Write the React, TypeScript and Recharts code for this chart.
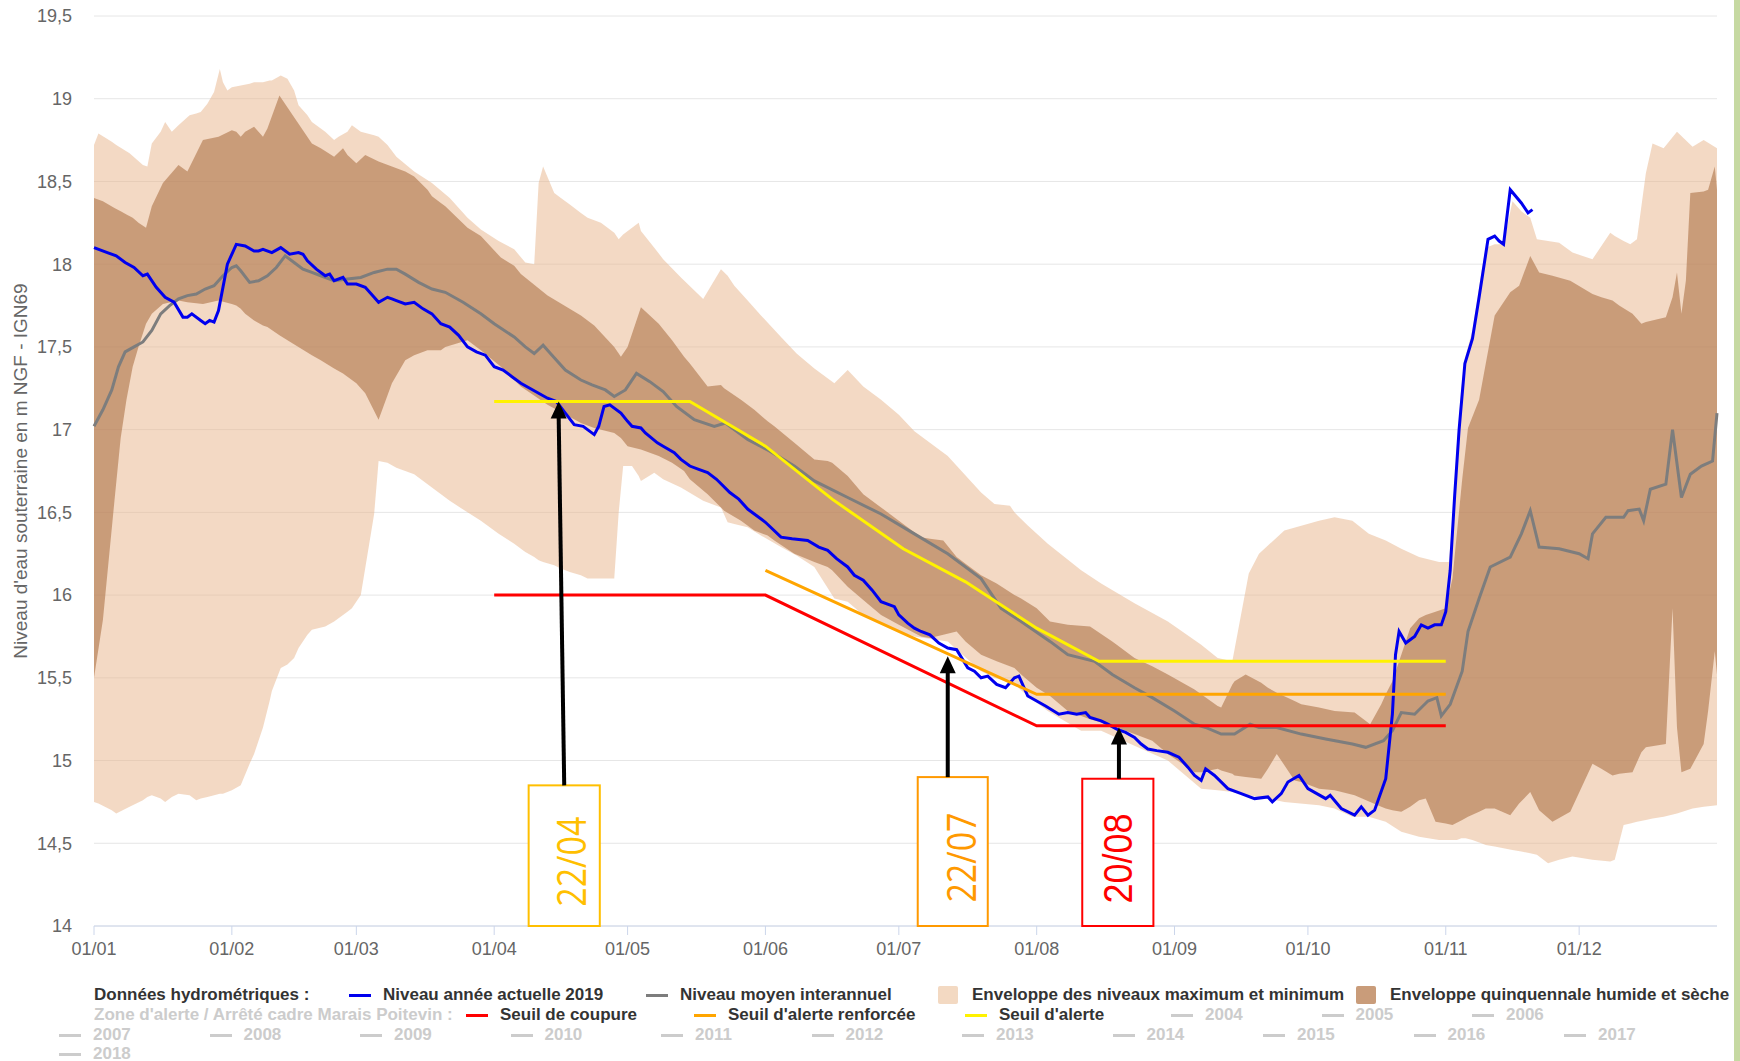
import React from "react";
import {
  ComposedChart,
  Area,
  Line,
  XAxis,
  YAxis,
  CartesianGrid,
  ReferenceLine,
  ReferenceArea,
  ReferenceDot,
} from "recharts";

// jour de l'année (0 = 01/01)
const monthTicks = [0, 31, 59, 90, 120, 151, 181, 212, 243, 273, 304, 334];
const monthLabels = ["01/01", "01/02", "01/03", "01/04", "01/05", "01/06", "01/07", "01/08", "01/09", "01/10", "01/11", "01/12"];
const levelTicks = [14, 14.5, 15, 15.5, 16, 16.5, 17, 17.5, 18, 18.5, 19, 19.5];

// Niveau année actuelle 2019
const niveau2019Days = [
  0, 3, 5, 7, 9, 11, 12, 14, 16, 18, 20, 21, 22, 24, 25, 26, 27, 28, 30, 32, 34, 36, 37, 38, 40, 42, 44, 46, 47, 48,
  50, 52, 53, 54, 56, 57, 59, 61, 63, 64, 66, 67, 68, 70, 72, 74, 76, 78, 80, 82, 84, 86, 88, 90, 92, 94, 96, 98, 100, 102,
  104, 106, 108, 110, 112.5, 113.5, 114.7, 116, 118.5, 120, 121, 123, 124, 126.7, 128, 130.5, 132, 134, 136, 138, 140, 143, 145, 147, 148.5, 151, 154.5, 157, 160.5, 163,
  165, 167, 169.5, 171, 173, 175, 177, 180, 181, 183, 184.5, 186, 188, 190, 192, 194, 196.5, 198, 199.5, 201, 203, 205, 207, 208, 210, 212, 214, 217, 219, 221,
  223, 224, 226.5, 228, 230, 232, 234, 235.5, 237, 239, 241.5, 244, 246, 247.5, 249, 250, 252, 255, 258, 261, 264, 265, 267, 268.5, 271, 273, 275, 277, 278, 280.5,
  283.5, 285, 286.5, 288, 290.5, 292, 292.7, 293.5, 295, 297, 298.5, 300, 301.5, 303, 304, 305, 306, 307, 308.3, 310, 311.5, 313.5, 315, 316, 317, 318.5, 321, 322.5, 323.5,
];
const niveau2019 = [
  18.1, 18.07, 18.05, 18.01, 17.98, 17.93, 17.94, 17.86, 17.8, 17.77, 17.68, 17.68, 17.7, 17.66, 17.64, 17.66, 17.65, 17.72, 18.0, 18.12, 18.11, 18.08, 18.08, 18.09, 18.07, 18.1, 18.06, 18.07, 18.06, 18.02,
  17.97, 17.93, 17.94, 17.9, 17.92, 17.88, 17.88, 17.86, 17.8, 17.77, 17.8, 17.79, 17.78, 17.76, 17.77, 17.73, 17.7, 17.64, 17.62, 17.57, 17.5, 17.47, 17.45, 17.38, 17.36, 17.32, 17.28, 17.25, 17.22, 17.19,
  17.17, 17.1, 17.03, 17.02, 16.97, 17.02, 17.14, 17.15, 17.1, 17.05, 17.02, 17.01, 16.98, 16.92, 16.9, 16.86, 16.82, 16.78, 16.76, 16.74, 16.7, 16.62, 16.58, 16.52, 16.49, 16.44, 16.35, 16.34, 16.33, 16.29,
  16.27, 16.22, 16.17, 16.12, 16.09, 16.03, 15.96, 15.93, 15.88, 15.83, 15.8, 15.78, 15.76, 15.71, 15.68, 15.67, 15.56, 15.54, 15.5, 15.51, 15.46, 15.44, 15.5, 15.51, 15.39, 15.36, 15.33, 15.28, 15.29, 15.28,
  15.29, 15.26, 15.24, 15.22, 15.19, 15.17, 15.14, 15.1, 15.07, 15.06, 15.05, 15.02, 14.96, 14.91, 14.88, 14.95, 14.91, 14.83, 14.8, 14.77, 14.78, 14.75, 14.8, 14.87, 14.91, 14.83, 14.8, 14.77, 14.79, 14.71,
  14.67, 14.72, 14.67, 14.7, 14.89, 15.28, 15.64, 15.78, 15.71, 15.75, 15.82, 15.8, 15.82, 15.82, 15.9, 16.15, 16.6, 17.0, 17.4, 17.55, 17.8, 18.15, 18.17, 18.14, 18.12, 18.45, 18.37, 18.31, 18.33,
];

// Niveau moyen interannuel
const moyenDays = [
  0, 2, 4, 5.5, 7, 9, 11, 13, 15, 17, 19, 21, 23, 25, 27, 29, 31, 32, 33, 35, 37, 39, 41, 43, 45, 47, 49, 51, 54, 57,
  60, 63, 66, 68, 70, 73, 76, 79, 83, 87, 90, 94.5, 97, 99, 101, 103, 106, 109.5, 112, 115, 117, 119.5, 122, 125, 128, 131, 135, 139.5, 142, 147,
  152, 157.5, 162, 169.5, 177, 184.5, 192, 199.5, 204, 208.5, 215, 219, 225, 229, 234, 238, 243, 247.5, 250, 253.5, 256.5, 260, 262, 266, 271.5, 277, 283, 286, 290, 292,
  294, 297, 300, 302, 303, 305, 307.7, 309, 311.5, 314, 318.5, 321, 323, 325, 329.5, 334, 336, 337, 340, 344, 345, 347.5, 348.5, 350, 353.5, 355, 357, 359, 361.5, 364, 365,
];
const moyen = [
  17.02, 17.12, 17.24, 17.38, 17.47, 17.5, 17.53, 17.6, 17.7, 17.75, 17.79, 17.81, 17.82, 17.85, 17.87, 17.93, 17.98, 17.99, 17.96, 17.89, 17.9, 17.93, 17.98, 18.05, 18.01, 17.97, 17.95, 17.93, 17.9, 17.91,
  17.92, 17.95, 17.97, 17.97, 17.94, 17.89, 17.85, 17.83, 17.77, 17.7, 17.64, 17.56, 17.5, 17.46, 17.51, 17.45, 17.36, 17.3, 17.27, 17.24, 17.2, 17.24, 17.34, 17.29, 17.23, 17.14, 17.06, 17.02, 17.04, 16.94,
  16.87, 16.78, 16.69, 16.59, 16.49, 16.37, 16.25, 16.1, 15.92, 15.84, 15.72, 15.64, 15.6, 15.52, 15.44, 15.38, 15.3, 15.22, 15.2, 15.16, 15.16, 15.22, 15.2, 15.2, 15.16, 15.13, 15.1, 15.08, 15.12, 15.18,
  15.29, 15.28, 15.36, 15.38, 15.27, 15.34, 15.54, 15.78, 15.98, 16.17, 16.23, 16.37, 16.51, 16.29, 16.28, 16.25, 16.22, 16.37, 16.47, 16.47, 16.51, 16.52, 16.45, 16.64, 16.67, 17.0, 16.59, 16.73, 16.78, 16.81, 17.1,
];

// Enveloppe des niveaux maximum et minimum
const extremesDays = [
  0, 1, 4, 5, 8, 11, 12, 13, 15, 16, 17.5, 19, 21.5, 23, 24, 25.5, 27, 28.3, 29, 30, 31, 33, 35, 36, 38, 39.5, 40, 42, 43.5, 45,
  46, 48, 49, 52, 54, 55, 57, 58, 60, 63, 64, 66, 68, 72, 76, 80, 84, 87, 91, 94.5, 97, 99, 100, 101, 103.5, 105, 107, 109.5, 111, 114,
  117, 118, 119, 121, 122.5, 123, 126, 128, 132, 137, 141, 142.5, 144, 147, 150, 154.5, 158, 162, 166.5, 169.5, 173, 177, 181, 184.5, 192, 199.5, 202.5, 206, 207, 210,
  214.5, 222, 226.5, 234, 241.5, 249, 252.7, 256, 259.7, 262, 267.7, 275.5, 279, 283, 286.7, 290.5, 294, 298, 302.5, 304.7, 305.5, 306.5, 307.5, 308.5, 310, 312, 313, 315, 317, 319,
  321, 323, 324.5, 327, 329.5, 332.5, 337, 341, 342, 344, 345.5, 347, 349, 350.5, 353, 356, 359.5, 362, 365,
];
const niveauMin = [
  14.75, 14.74, 14.7, 14.68, 14.72, 14.76, 14.78, 14.79, 14.77, 14.75, 14.78, 14.8, 14.79, 14.76, 14.77, 14.78, 14.79, 14.8, 14.8, 14.81, 14.82, 14.85, 14.98, 15.04, 15.2, 15.36, 15.42, 15.56, 15.58, 15.62,
  15.68, 15.76, 15.79, 15.81, 15.84, 15.86, 15.9, 15.92, 16.0, 16.49, 16.81, 16.8, 16.77, 16.73, 16.65, 16.57, 16.5, 16.45, 16.37, 16.31, 16.26, 16.23, 16.21, 16.2, 16.18, 16.16, 16.14, 16.12, 16.1, 16.1,
  16.1, 16.5, 16.78, 16.78, 16.72, 16.69, 16.74, 16.7, 16.65, 16.57, 16.53, 16.44, 16.43, 16.41, 16.36, 16.29, 16.24, 16.17, 15.98, 15.96, 15.88, 15.83, 15.78, 15.75, 15.72, 15.54, 15.5, 15.47, 15.46, 15.39,
  15.3, 15.18, 15.18, 15.09, 15.0, 14.83, 14.82, 14.81, 14.79, 14.78, 14.75, 14.73, 14.71, 14.66, 14.66, 14.63, 14.57, 14.54, 14.52, 14.52, 14.52, 14.52, 14.53, 14.53, 14.52, 14.5, 14.49, 14.48, 14.47, 14.46,
  14.45, 14.44, 14.43, 14.38, 14.4, 14.42, 14.4, 14.39, 14.4, 14.61, 14.62, 14.63, 14.64, 14.65, 14.66, 14.68, 14.71, 14.72, 14.73,
];
const niveauMax = [
  18.72, 18.79, 18.74, 18.72, 18.67, 18.6, 18.59, 18.73, 18.8, 18.86, 18.8, 18.84, 18.9, 18.91, 18.92, 18.97, 19.04, 19.18, 19.1, 19.05, 19.07, 19.08, 19.09, 19.1, 19.1, 19.11, 19.11, 19.14, 19.12, 19.05,
  18.96, 18.9, 18.86, 18.8, 18.75, 18.77, 18.8, 18.84, 18.8, 18.78, 18.77, 18.72, 18.65, 18.56, 18.49, 18.4, 18.28, 18.21, 18.14, 18.09, 18.01, 18.0, 18.49, 18.59, 18.43, 18.4, 18.36, 18.31, 18.28, 18.25,
  18.19, 18.15, 18.18, 18.22, 18.25, 18.2, 18.1, 18.03, 17.92, 17.79, 17.97, 17.93, 17.87, 17.78, 17.69, 17.56, 17.46, 17.37, 17.28, 17.36, 17.26, 17.18, 17.09, 16.99, 16.84, 16.62, 16.55, 16.54, 16.5, 16.42,
  16.31, 16.15, 16.07, 15.95, 15.84, 15.7, 15.62, 15.6, 16.13, 16.25, 16.39, 16.45, 16.47, 16.45, 16.37, 16.33, 16.28, 16.23, 16.2, 16.2, 16.45, 16.9, 17.25, 17.45, 17.6, 17.95, 18.1, 18.12, 18.12, 18.38,
  18.32, 18.28, 18.15, 18.14, 18.13, 18.07, 18.03, 18.19, 18.17, 18.14, 18.12, 18.15, 18.55, 18.73, 18.7, 18.8, 18.71, 18.75, 18.7,
];

// Enveloppe quinquennale humide et sèche
const quinqDays = [
  0, 2, 4.6, 6, 7.3, 8.7, 10, 11.7, 13, 15.5, 19, 21, 24.5, 28, 31, 32, 33, 34, 36, 38, 39, 41.7, 44.7, 49, 51, 54, 56, 57, 59, 61,
  64, 67, 70, 72, 75, 76, 78, 79, 84, 87, 91.5, 94.5, 96, 102, 109.5, 112.5, 117, 118.5, 120, 123, 127, 130, 132.7, 134, 138, 141, 141.7, 145.5, 148.5, 151.5,
  153, 157.5, 162, 165, 166, 169.5, 173, 177, 181, 186, 188, 191, 194, 196, 199.5, 203, 207, 208.5, 212, 215, 219, 224, 229, 230, 234, 238, 241.5, 247.5, 249, 252.7,
  253.5, 256, 256.5, 259, 262.5, 264, 266, 270, 271.5, 275.5, 279, 283.5, 287, 289.5, 290.5, 292, 294, 296, 298, 299.5, 301.7, 304, 305.5, 307.7, 309, 311.5, 313, 315, 318.5, 320.5,
  323, 325, 328, 332, 337, 339, 341.5, 343, 346, 348, 349, 353.5, 355, 356, 357, 358, 359, 362, 363, 364.5, 365,
];
const quinqSeche = [
  15.5, 15.85, 16.57, 16.95, 17.18, 17.38, 17.5, 17.64, 17.7, 17.76, 17.78, 17.77, 17.76, 17.78, 17.76, 17.75, 17.73, 17.7, 17.66, 17.63, 17.62, 17.57, 17.52, 17.45, 17.42, 17.37, 17.34, 17.32, 17.28, 17.22,
  17.06, 17.28, 17.42, 17.45, 17.48, 17.48, 17.48, 17.5, 17.54, 17.48, 17.38, 17.3, 17.26, 17.15, 17.04, 17.01, 16.98, 16.95, 16.9, 16.88, 16.84, 16.8, 16.75, 16.7, 16.61, 16.53, 16.51, 16.45, 16.39, 16.36,
  16.33, 16.25, 16.2, 16.17, 16.15, 16.05, 15.97, 15.88, 15.82, 15.75, 15.74, 15.76, 15.78, 15.72, 15.64, 15.6, 15.56, 15.52, 15.44, 15.39, 15.3, 15.25, 15.21, 15.2, 15.16, 15.12, 15.04, 14.93, 14.93, 14.95,
  14.94, 14.92, 14.91, 14.9, 14.89, 14.95, 15.04, 14.88, 14.87, 14.83, 14.82, 14.79, 14.75, 14.72, 14.71, 14.7, 14.69, 14.72, 14.76, 14.77, 14.63, 14.62, 14.61, 14.64, 14.66, 14.69, 14.71, 14.71, 14.67, 14.74,
  14.81, 14.7, 14.63, 14.69, 14.98, 14.95, 14.91, 14.92, 14.93, 15.05, 15.08, 15.1, 15.92, 15.2, 14.93, 14.94, 14.95, 15.1, 15.3, 15.66, 15.52,
];
const quinqHumide = [
  18.4, 18.38, 18.34, 18.32, 18.3, 18.28, 18.25, 18.22, 18.35, 18.49, 18.6, 18.56, 18.75, 18.77, 18.81, 18.8, 18.77, 18.8, 18.83, 18.77, 18.82, 19.02, 18.9, 18.73, 18.7, 18.65, 18.7, 18.66, 18.61, 18.66,
  18.62, 18.59, 18.56, 18.53, 18.45, 18.41, 18.37, 18.35, 18.22, 18.17, 18.04, 17.99, 17.94, 17.81, 17.69, 17.63, 17.5, 17.44, 17.5, 17.74, 17.64, 17.54, 17.44, 17.4, 17.26, 17.27, 17.25, 17.18, 17.12, 17.05,
  17.02, 16.92, 16.82, 16.81, 16.8, 16.72, 16.61, 16.53, 16.45, 16.35, 16.34, 16.33, 16.23, 16.19, 16.12, 16.07, 16.0, 15.98, 15.92, 15.84, 15.82, 15.81, 15.72, 15.7, 15.62, 15.57, 15.52, 15.43, 15.4, 15.33,
  15.32, 15.46, 15.48, 15.52, 15.47, 15.44, 15.41, 15.36, 15.34, 15.32, 15.3, 15.29, 15.22, 15.34, 15.4, 15.48, 15.64, 15.8, 15.86, 15.88, 15.9, 15.92, 16.1, 16.7, 17.01, 17.18, 17.4, 17.69, 17.83, 17.87,
  18.05, 17.95, 17.93, 17.9, 17.82, 17.8, 17.78, 17.75, 17.7, 17.64, 17.65, 17.68, 17.8, 17.95, 17.7, 17.9, 18.43, 18.44, 18.45, 18.59, 18.45,
];

// Zone d'alerte / Arrêté cadre Marais Poitevin
const alerteDays = [90, 134, 151, 166, 182, 196, 212, 226, 304];
const alerte = [17.17, 17.17, 16.9, 16.58, 16.28, 16.08, 15.8, 15.6, 15.6];
const renforceeDays = [151, 212, 304];
const renforcee = [16.15, 15.4, 15.4];
const coupureDays = [90, 151, 212, 304];
const coupure = [16.0, 16.0, 15.21, 15.21];

// dates de franchissement des seuils
const alertDates = ["22/04", "22/07", "20/08"];
const alertDays = [104.5, 192, 230.5];
const alertLevels = [17.17, 15.63, 15.2];

const hiddenYears = [2004, 2005, 2006, 2007, 2008, 2009, 2010, 2011, 2012, 2013, 2014, 2015, 2016, 2017, 2018];

const toSeries = (days: number[], values: number[]) => days.map((day, i) => ({ day, value: values[i] }));
const toRange = (days: number[], low: number[], high: number[]) =>
  days.map((day, i) => ({ day, range: [low[i], high[i]] }));

const niveau2019Data = toSeries(niveau2019Days, niveau2019);
const moyenData = toSeries(moyenDays, moyen);
const extremesData = toRange(extremesDays, niveauMin, niveauMax);
const quinqData = toRange(quinqDays, quinqSeche, quinqHumide);
const alerteData = toSeries(alerteDays, alerte);
const renforceeData = toSeries(renforceeDays, renforcee);
const coupureData = toSeries(coupureDays, coupure);

// cartouches sous les flèches
const callouts = [
  { color: "#ffbf00", font: "'Open Sans', sans-serif", from: 105.75, box: [97.75, 113.75], top: 14.85, dx: 6 },
  { color: "#ff9900", font: "'Open Sans', sans-serif", from: 192, box: [185.25, 201], top: 14.9, dx: 8 },
  { color: "#ff0000", font: "'Liberation Sans', Arial, sans-serif", from: 230.5, box: [222.25, 238.25], top: 14.89, dx: 0 },
];

const BLUE = "#0000ee";
const GREY = "#7d7d7d";
const LIGHT = "#e8b48a";
const DARK = "#ad7348";

const ArrowHead = (props: any) => {
  const { cx, cy } = props;
  return <path d={`M${cx},${cy} L${cx - 8},${cy + 17} L${cx + 8},${cy + 17} Z`} fill="#000" />;
};

const makeBox = (text: string, color: string, font: string, dx: number) => (props: any) => {
  const { x, y, width, height } = props;
  const cx = x + width / 2 + dx;
  const cy = y + height / 2 + 6;
  return (
    <g>
      <rect x={x} y={y} width={width} height={height} fill="#fff" stroke={color} strokeWidth={2} />
      <text
        x={cx}
        y={cy}
        transform={`rotate(-90 ${cx} ${cy})`}
        textAnchor="middle"
        dominantBaseline="central"
        fill={color}
        fontSize={40}
        fontFamily={font}
        textLength={90}
        lengthAdjust="spacingAndGlyphs"
      >
        {text}
      </text>
    </g>
  );
};

const AxisTitle = () => (
  <text
    x={20}
    y={471}
    transform="rotate(-90 20 471)"
    textAnchor="middle"
    dominantBaseline="central"
    fill="#666"
    fontSize={19}
  >
    Niveau d'eau souterraine en m NGF - IGN69
  </text>
);

const legendRows = [995, 1015, 1035, 1054];

type LegendItem = { row: number; x: number; kind: "title" | "line" | "square"; label: string; color: string; text: string };

const legendItems: LegendItem[] = [
  { row: 0, x: 94, kind: "title", label: "Données hydrométriques :", color: "", text: "#333" },
  { row: 0, x: 349, kind: "line", label: "Niveau année actuelle 2019", color: BLUE, text: "#333" },
  { row: 0, x: 646, kind: "line", label: "Niveau moyen interannuel", color: GREY, text: "#333" },
  { row: 0, x: 938, kind: "square", label: "Enveloppe des niveaux maximum et minimum", color: "#f3d9c2", text: "#333" },
  { row: 0, x: 1356, kind: "square", label: "Enveloppe quinquennale humide et sèche", color: "#c99c7a", text: "#333" },
  { row: 1, x: 94, kind: "title", label: "Zone d'alerte / Arrêté cadre Marais Poitevin :", color: "", text: "#ccc" },
  { row: 1, x: 466, kind: "line", label: "Seuil de coupure", color: "#ff0000", text: "#333" },
  { row: 1, x: 694, kind: "line", label: "Seuil d'alerte renforcée", color: "#ffa500", text: "#333" },
  { row: 1, x: 965, kind: "line", label: "Seuil d'alerte", color: "#fff200", text: "#333" },
  ...hiddenYears.map((yr, i) => {
    const row = i < 3 ? 1 : i < 14 ? 2 : 3;
    const x = i < 3 ? 1171 + i * 150.5 : 59 + ((i - 3) % 11) * 150.5;
    return { row, x, kind: "line" as const, label: String(yr), color: "#ccc", text: "#ccc" };
  }),
];

const ChartLegend = () => (
  <>
    {legendItems.map((it, i) => {
      const cy = legendRows[it.row];
      const textX = it.kind === "title" ? it.x : it.x + 34;
      return (
        <React.Fragment key={i}>
          {it.kind === "line" && (
            <div style={{ position: "absolute", left: it.x, top: cy - 1.5, width: 22, height: 3, background: it.color }} />
          )}
          {it.kind === "square" && (
            <div style={{ position: "absolute", left: it.x, top: cy - 9, width: 20, height: 18, borderRadius: 2, background: it.color }} />
          )}
          <div
            style={{
              position: "absolute",
              left: textX,
              top: cy - 10,
              lineHeight: "20px",
              fontSize: 17,
              fontWeight: "bold",
              color: it.text,
              whiteSpace: "nowrap",
            }}
          >
            {it.label}
          </div>
        </React.Fragment>
      );
    })}
  </>
);

export default function App() {
  return (
    <div
      style={{
        position: "absolute",
        left: 0,
        top: 0,
        width: 1740,
        height: 1061,
        background: "#fff",
        overflow: "hidden",
        fontFamily: "'Liberation Sans', Arial, sans-serif",
      }}
    >
      <ComposedChart width={1740} height={970} margin={{ top: 16, right: 23, left: 0, bottom: 0 }}>
        <CartesianGrid vertical={false} stroke="#e6e6e6" />
        <XAxis
          type="number"
          dataKey="day"
          domain={[0, 365]}
          ticks={monthTicks}
          interval={0}
          tickFormatter={(v) => monthLabels[monthTicks.indexOf(v)]}
          height={44}
          stroke="#ccd6eb"
          tickSize={9}
          tickMargin={7}
          tick={{ fill: "#666", fontSize: 18 }}
        />
        <YAxis
          type="number"
          domain={[14, 19.5]}
          ticks={levelTicks}
          interval={0}
          width={94}
          axisLine={false}
          tickLine={false}
          tickSize={6}
          tickMargin={16}
          tickFormatter={(v) => String(v).replace(".", ",")}
          tick={{ fill: "#666", fontSize: 18 }}
          label={{ content: () => <AxisTitle /> }}
        />

        <Area data={extremesData} dataKey="range" type="linear" stroke="none" fill={LIGHT} fillOpacity={0.5} isAnimationActive={false} activeDot={false} />
        <Area data={quinqData} dataKey="range" type="linear" stroke="none" fill={DARK} fillOpacity={0.6} isAnimationActive={false} activeDot={false} />

        <Line data={moyenData} dataKey="value" type="linear" stroke={GREY} strokeWidth={3} dot={false} isAnimationActive={false} />
        <Line data={niveau2019Data} dataKey="value" type="linear" stroke={BLUE} strokeWidth={3} dot={false} isAnimationActive={false} />
        <Line data={coupureData} dataKey="value" type="linear" stroke="#ff0000" strokeWidth={3} dot={false} isAnimationActive={false} />
        <Line data={renforceeData} dataKey="value" type="linear" stroke="#ffa500" strokeWidth={3} dot={false} isAnimationActive={false} />
        <Line data={alerteData} dataKey="value" type="linear" stroke="#fff200" strokeWidth={3} dot={false} isAnimationActive={false} />

        {callouts.map((c, i) => (
          <ReferenceArea
            key={`box-${i}`}
            x1={c.box[0]}
            x2={c.box[1]}
            y1={14}
            y2={c.top}
            zIndex={1000}
            shape={makeBox(alertDates[i], c.color, c.font, c.dx)}
          />
        ))}
        {callouts.map((c, i) => (
          <ReferenceLine
            key={`arrow-${i}`}
            segment={[
              { x: c.from, y: c.top },
              { x: alertDays[i], y: alertLevels[i] - 0.09 },
            ]}
            stroke="#000"
            strokeWidth={4}
            zIndex={1000}
          />
        ))}
        {callouts.map((c, i) => (
          <ReferenceDot key={`head-${i}`} x={alertDays[i]} y={alertLevels[i]} r={8} zIndex={1000} shape={ArrowHead} />
        ))}
      </ComposedChart>

      <ChartLegend />
      <div style={{ position: "absolute", left: 1734, top: 0, width: 6, height: 1061, background: "#c6d9a2" }} />
    </div>
  );
}
